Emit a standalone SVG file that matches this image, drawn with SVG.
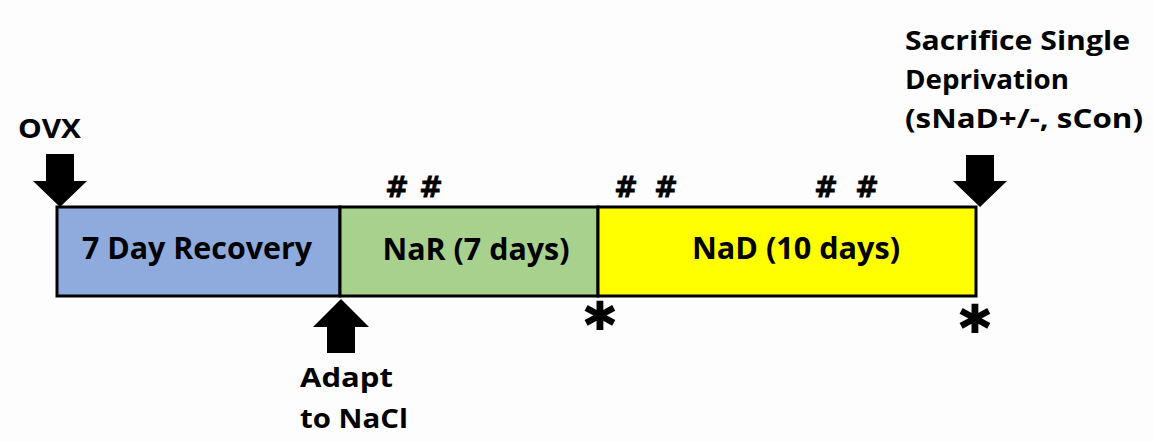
<svg xmlns="http://www.w3.org/2000/svg" width="1153" height="442" viewBox="0 0 1153 442">
<style>
.lbl{font-family:"Open Sans","Liberation Sans",sans-serif;font-weight:bold;fill:#000}
.box{stroke:#000;stroke-width:3}
.arr{fill:#000}
.mark{font-family:"DejaVu Sans","Liberation Sans",sans-serif;font-weight:bold;fill:#000;stroke:#000}
</style>
<rect width="1153" height="442" fill="#fdfdfd"/>
<g id="recovery">
<rect class="box" x="57" y="207" width="283" height="89" fill="#8faadc"/>
<text class="lbl" x="197" y="259" font-size="30" text-anchor="middle" textLength="230" lengthAdjust="spacingAndGlyphs">7 Day Recovery</text>
</g>
<g id="nar">
<rect class="box" x="340" y="207" width="258" height="89" fill="#a9d18e"/>
<text class="lbl" x="476" y="260" font-size="30" text-anchor="middle" textLength="187" lengthAdjust="spacingAndGlyphs">NaR (7 days)</text>
</g>
<g id="nad">
<rect class="box" x="598" y="207" width="378" height="89" fill="#ffff00"/>
<text class="lbl" x="796" y="259" font-size="30" text-anchor="middle" textLength="208" lengthAdjust="spacingAndGlyphs">NaD (10 days)</text>
</g>
<g id="ovx">
<text class="lbl" x="18" y="138" font-size="27" textLength="63" lengthAdjust="spacingAndGlyphs">OVX</text>
</g>
<g id="adapt">
<text class="lbl" x="300" y="387" font-size="27" textLength="93" lengthAdjust="spacingAndGlyphs">Adapt</text>
<text class="lbl" x="300" y="428" font-size="27" textLength="108" lengthAdjust="spacingAndGlyphs">to NaCl</text>
</g>
<g id="sacrifice">
<text class="lbl" x="905" y="50" font-size="27" textLength="225" lengthAdjust="spacingAndGlyphs">Sacrifice Single</text>
<text class="lbl" x="905" y="89" font-size="27" textLength="164" lengthAdjust="spacingAndGlyphs">Deprivation</text>
<text class="lbl" x="905" y="128" font-size="27" textLength="238" lengthAdjust="spacingAndGlyphs">(sNaD+/-, sCon)</text>
</g>
<g id="connectors">
<polygon class="arr" points="46,154 74,154 74,181 87,181 60,207 33,181 46,181"/>
<polygon class="arr" points="327,353 355,353 355,327 369,327 341,299 313,327 327,327"/>
<polygon class="arr" points="966,155 994,155 994,181 1007,181 980,207 953,181 966,181"/>
</g>
<g id="marks">
<text class="mark" x="397" y="197" font-size="28" stroke-width="0.8" text-anchor="middle">#</text>
<text class="mark" x="431" y="197" font-size="28" stroke-width="0.8" text-anchor="middle">#</text>
<text class="mark" x="626" y="197" font-size="28" stroke-width="0.8" text-anchor="middle">#</text>
<text class="mark" x="666" y="197" font-size="28" stroke-width="0.8" text-anchor="middle">#</text>
<text class="mark" x="826" y="197" font-size="28" stroke-width="0.8" text-anchor="middle">#</text>
<text class="mark" x="867" y="197" font-size="28" stroke-width="0.8" text-anchor="middle">#</text>
<text class="mark" x="600" y="345" font-size="58" stroke-width="2" text-anchor="middle">*</text>
<text class="mark" x="975" y="348" font-size="58" stroke-width="2" text-anchor="middle">*</text>
</g>
</svg>
